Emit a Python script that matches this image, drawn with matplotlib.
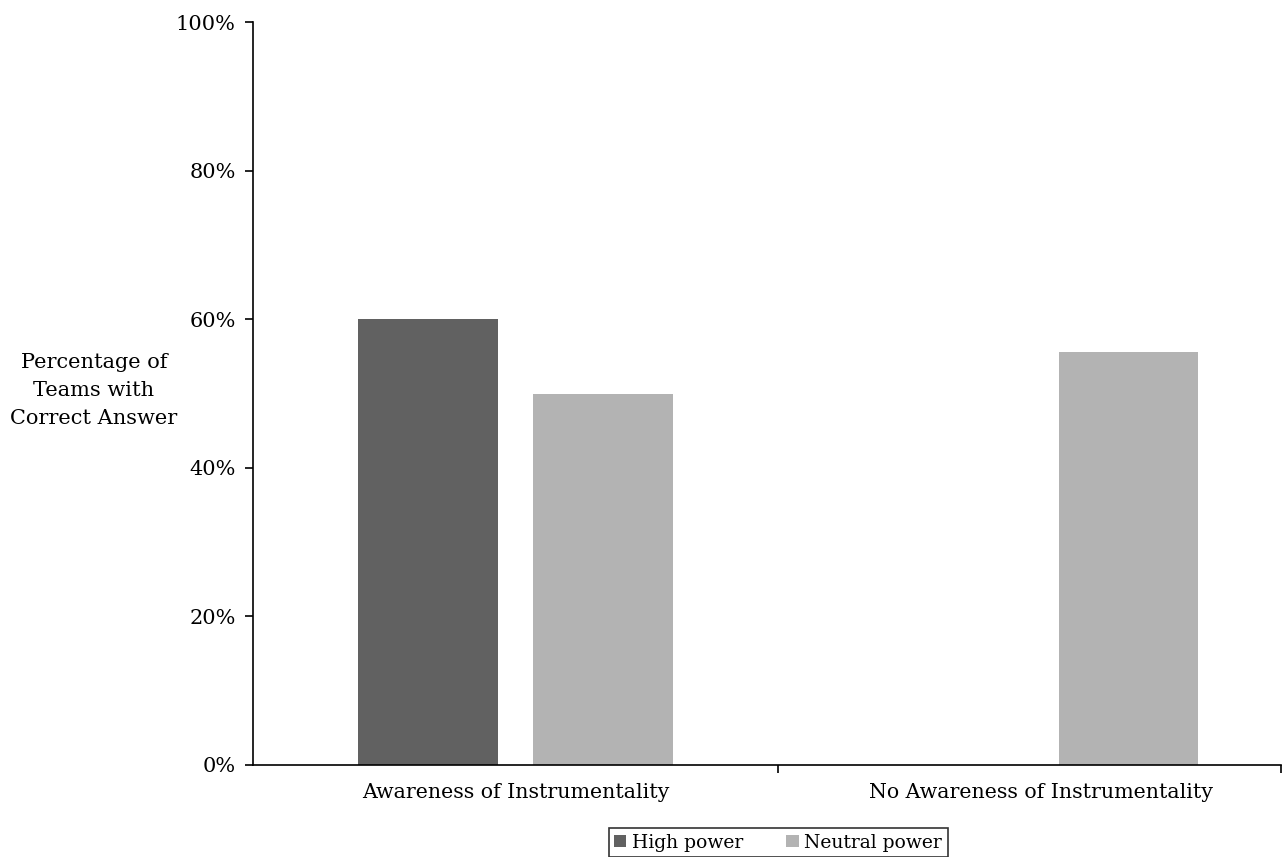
import numpy as np
import matplotlib
matplotlib.use("Agg")
import matplotlib.pyplot as plt
from matplotlib.ticker import FixedLocator, PercentFormatter

categories = ["Awareness of Instrumentality", "No Awareness of Instrumentality"]
series = ["High power", "Neutral power"]
high_power = [60.0, 0.0]
neutral_power = [50.0, 55.6]
colors = ["#616161", "#b3b3b3"]

plt.rcParams["font.family"] = ["DejaVu Serif"]

fig = plt.figure(figsize=(12.82, 8.57), dpi=100)
ax = fig.add_axes([253 / 1282, 1 - 765 / 857, 1028 / 1282, 743 / 857])

x = np.arange(len(categories))
w = 0.266
ax.bar(x - 0.1665, high_power, w, color=colors[0], label=series[0])
ax.bar(x + 0.1665, neutral_power, w, color=colors[1], label=series[1])

# the original's last category is cut off by the image edge
x_right = 1.457
ax.set_xlim(-0.5, x_right)
ax.set_ylim(0, 100)
ax.yaxis.set_major_locator(FixedLocator([0, 20, 40, 60, 80, 100]))
ax.yaxis.set_major_formatter(PercentFormatter(decimals=0))
ax.xaxis.set_major_locator(FixedLocator([0.5, x_right]))
ax.xaxis.set_major_formatter(plt.NullFormatter())
ax.xaxis.set_minor_locator(FixedLocator(x))
ax.set_xticklabels(categories, minor=True)
ax.tick_params(axis="x", which="minor", length=0, pad=13, labelsize=14.8)
ax.tick_params(axis="x", which="major", length=6, width=1.2, direction="out")
ax.tick_params(axis="y", length=6, width=1.2, pad=6.5, labelsize=15)

for s in ["top", "right"]:
    ax.spines[s].set_visible(False)
for s in ["left", "bottom"]:
    ax.spines[s].set_linewidth(1.2)

fig.text(94 / 1282, 1 - 390 / 857, "Percentage of\nTeams with\nCorrect Answer",
         ha="center", va="center", fontsize=15, linespacing=1.6)

leg = fig.legend(loc="upper center", bbox_to_anchor=(778 / 1282, 1 - 828 / 857),
                 ncol=2, fontsize=13.5, frameon=True, fancybox=False,
                 handlelength=0.65, handleheight=0.65, handletextpad=0.3,
                 columnspacing=2.3, borderpad=0.3, borderaxespad=0)
leg.get_frame().set_edgecolor("black")
leg.get_frame().set_linewidth(1.2)

fig.savefig("out.png", dpi=100)
